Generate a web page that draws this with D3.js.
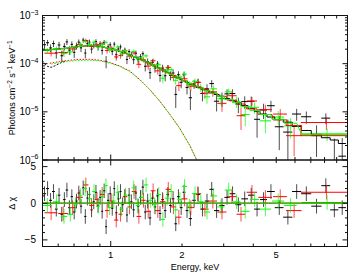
<!DOCTYPE html>
<html>
<head>
<meta charset="utf-8">
<script src="https://cdn.jsdelivr.net/npm/d3@7"></script>
<style>
  body { margin: 0; background: #fff; }
  text { font-family: "Liberation Sans", Arial, sans-serif; fill: #000; }
</style>
</head>
<body>
<div id="chart"></div>
<script>
// flux values are in units of 1e-4 photons cm^-2 s^-1 keV^-1
const UNIT = 1e-4;

// black data group
const blackE = [0.525,0.541,0.557,0.573,0.589,0.605,0.621,0.637,0.653,0.669,0.685,0.701,0.717,0.733,0.749,0.765,0.781,0.797,0.813,0.83,0.848,0.866,0.884,0.902,0.92,0.938,0.956,0.975,0.995,1.015,1.035,1.056,1.078,1.1,1.123,1.147,1.171,1.196,1.222,1.249,1.277,1.306,1.336,1.367,1.399,1.432,1.466,1.501,1.538,1.576,1.615,1.656,1.698,1.742,1.787,1.834,1.882,1.932,1.984,2.04,2.1,2.17,2.25,2.34,2.44,2.55,2.67,2.8,2.95,3.1,3.27,3.46,3.68,3.92,4.15,4.42,4.75,5.15,5.6,6.1,6.7,7.4,8.1,8.8,9.5];
const blackHW = [0.008,0.008,0.008,0.008,0.008,0.008,0.008,0.008,0.008,0.008,0.008,0.008,0.008,0.008,0.008,0.008,0.008,0.008,0.008,0.009,0.009,0.009,0.009,0.009,0.009,0.009,0.009,0.01,0.01,0.01,0.01,0.011,0.011,0.011,0.012,0.012,0.012,0.013,0.013,0.014,0.014,0.015,0.015,0.016,0.016,0.017,0.017,0.018,0.019,0.019,0.02,0.021,0.021,0.022,0.023,0.024,0.025,0.026,0.027,0.03,0.03,0.035,0.04,0.045,0.05,0.055,0.06,0.07,0.075,0.08,0.09,0.1,0.12,0.12,0.12,0.15,0.18,0.22,0.25,0.27,0.33,0.37,0.35,0.35,0.35];
const blackFlux = [2.47,2.72,2.12,2.61,1.67,2.44,1.46,2.28,2.83,1.91,2.52,1.72,2.34,2.8,2.13,3.09,1.66,2.61,2.8,2.01,2.42,2.87,2.22,2.58,1.88,2.76,1.12,2.23,2.46,1.8,2.55,1.54,2.02,2.23,1.69,1.9,1.22,1.78,1.52,1.21,1.65,1.21,1.39,1.61,0.88,1.1,0.65,1.06,0.81,0.98,0.57,0.81,0.56,0.81,0.57,0.64,0.23,0.59,0.41,0.585,0.32,0.196,0.38,0.41,0.24,0.3,0.386,0.166,0.19,0.236,0.24,0.145,0.163,0.165,0.07,0.109,0.134,0.049,0.038,0.09,0.079,0.032,0.074,0.0096,0.012];
const blackErr = [0.42,0.39,0.39,0.4,0.4,0.4,0.39,0.4,0.4,0.39,0.39,0.4,0.38,0.38,0.39,0.37,0.37,0.38,0.38,0.38,0.35,0.35,0.35,0.35,0.34,0.33,0.32,0.32,0.31,0.3,0.29,0.29,0.28,0.27,0.26,0.25,0.24,0.23,0.24,0.23,0.22,0.21,0.2,0.2,0.19,0.18,0.17,0.17,0.16,0.15,0.15,0.14,0.13,0.13,0.12,0.11,0.11,0.105,0.1,0.097,0.09,0.087,0.08,0.077,0.075,0.073,0.069,0.064,0.063,0.057,0.054,0.051,0.047,0.043,0.041,0.038,0.035,0.033,0.031,0.025,0.0226,0.0204,0.0189,0.0182,0.0165];
const blackModel = [1.92,1.94,1.96,1.98,1.99,2.0,2.04,2.08,2.11,2.14,2.17,2.2,2.23,2.26,2.29,2.31,2.33,2.35,2.35,2.35,2.35,2.34,2.32,2.3,2.25,2.2,2.15,2.1,2.06,2.01,1.96,1.91,1.85,1.8,1.74,1.67,1.6,1.53,1.47,1.41,1.35,1.29,1.23,1.17,1.11,1.05,0.99,0.94,0.89,0.83,0.78,0.74,0.69,0.65,0.61,0.57,0.53,0.5,0.47,0.44,0.41,0.38,0.35,0.32,0.3,0.28,0.255,0.23,0.21,0.19,0.17,0.155,0.135,0.117,0.103,0.09,0.078,0.069,0.061,0.05,0.041,0.034,0.029,0.026,0.022];
const blackChi = [1.3,2.0,0.4,1.6,-0.8,1.1,-1.5,0.5,1.8,-0.6,0.9,-1.2,0.3,1.4,-0.4,2.1,-1.8,0.7,1.2,-0.9,0.2,1.5,-0.3,0.8,-1.1,1.7,-3.2,0.4,1.3,-0.7,2.0,-1.3,0.6,1.6,-0.2,0.9,-1.6,1.1,0.2,-0.9,1.4,-0.4,0.8,2.2,-1.2,0.3,-2.0,0.7,-0.5,1.0,-1.4,0.5,-1.0,1.2,-0.3,0.6,-2.8,0.9,-0.6,1.5,-1.0,-2.1,0.4,1.2,-0.8,0.3,1.9,-1.0,-0.3,0.8,1.3,-0.2,0.6,1.1,-0.8,0.5,1.6,-0.6,-1.9,1.6,1.3,-0.4,2.4,-0.9,-0.6];

// red data group
const redE = [0.56,0.63,0.69,0.74,0.785,0.83,0.875,0.92,0.965,1.01,1.055,1.1,1.15,1.2,1.255,1.315,1.375,1.44,1.51,1.58,1.66,1.75,1.84,1.94,2.05,2.18,2.33,2.5,2.7,2.95,3.25,3.55,3.95,4.5,5.2,5.95,8.15];
const redHW = [0.035,0.03,0.025,0.022,0.02,0.02,0.02,0.02,0.02,0.02,0.022,0.022,0.025,0.025,0.028,0.03,0.03,0.035,0.035,0.04,0.045,0.045,0.05,0.05,0.06,0.07,0.08,0.09,0.11,0.13,0.15,0.15,0.2,0.3,0.35,0.45,1.8];
const redFlux = [1.65,1.71,2.02,2.49,3.03,2.27,2.47,2.57,1.87,2.09,1.38,1.48,1.84,1.43,1.67,0.97,1.21,0.89,1.15,0.71,0.76,0.84,0.52,0.35,0.485,0.34,0.41,0.244,0.26,0.15,0.216,0.083,0.168,0.111,0.09,0.032,0.06];
const redErr = [0.235,0.247,0.262,0.272,0.28,0.282,0.28,0.27,0.256,0.242,0.229,0.216,0.2,0.182,0.168,0.165,0.15,0.135,0.13,0.116,0.111,0.098,0.091,0.08,0.075,0.068,0.063,0.058,0.054,0.05,0.046,0.041,0.035,0.029,0.024,0.02,0.018];
const redModel = [1.96,2.06,2.18,2.27,2.33,2.35,2.33,2.25,2.13,2.02,1.91,1.8,1.66,1.52,1.4,1.27,1.15,1.04,0.93,0.83,0.74,0.65,0.57,0.5,0.44,0.38,0.33,0.29,0.245,0.21,0.175,0.145,0.115,0.088,0.068,0.052,0.032];
const redChi = [-1.3,-1.4,-0.6,0.8,2.5,-0.3,0.5,1.2,-1.0,0.3,-2.3,-1.5,0.9,-0.5,1.6,-1.8,0.4,-1.1,1.7,-1.0,0.2,1.9,-0.5,-1.9,0.6,-0.6,1.3,-0.8,0.3,-1.2,0.9,-1.5,1.5,0.8,0.9,-1.0,1.5];

// green data group
const greenE = [0.54,0.59,0.635,0.675,0.71,0.745,0.78,0.815,0.85,0.885,0.92,0.955,0.99,1.03,1.07,1.11,1.155,1.2,1.25,1.3,1.355,1.41,1.47,1.53,1.595,1.66,1.73,1.8,1.88,1.96,2.05,2.15,2.27,2.4,2.55,2.72,2.92,3.15,3.4,3.7,4.05,4.5,5.1,5.75,8.2];
const greenHW = [0.025,0.02,0.02,0.018,0.015,0.015,0.015,0.015,0.016,0.016,0.017,0.017,0.018,0.019,0.02,0.02,0.022,0.022,0.025,0.025,0.028,0.03,0.03,0.032,0.035,0.035,0.04,0.04,0.045,0.05,0.05,0.06,0.065,0.07,0.08,0.09,0.1,0.12,0.13,0.16,0.18,0.25,0.3,0.35,1.8];
const greenFlux = [1.87,2.04,1.62,1.76,2.17,2.55,2.89,2.52,2.8,2.21,2.49,2.78,1.92,2.04,2.21,1.61,1.87,1.54,1.79,1.25,1.31,1.45,1.03,0.875,0.95,0.5,0.74,0.75,0.45,0.53,0.61,0.36,0.43,0.32,0.205,0.3,0.186,0.26,0.163,0.088,0.124,0.065,0.078,0.051,0.035];
const greenErr = [0.233,0.239,0.248,0.258,0.266,0.274,0.28,0.282,0.282,0.278,0.27,0.259,0.248,0.236,0.224,0.214,0.198,0.182,0.183,0.169,0.155,0.142,0.137,0.126,0.113,0.111,0.1,0.096,0.085,0.082,0.075,0.07,0.066,0.062,0.058,0.054,0.048,0.045,0.042,0.038,0.033,0.029,0.025,0.023,0.0102];
const greenModel = [1.94,1.99,2.07,2.15,2.22,2.28,2.33,2.35,2.35,2.32,2.25,2.16,2.07,1.97,1.87,1.78,1.65,1.52,1.41,1.3,1.19,1.09,0.98,0.9,0.81,0.74,0.67,0.6,0.53,0.485,0.44,0.39,0.345,0.31,0.275,0.245,0.21,0.18,0.155,0.13,0.107,0.088,0.07,0.058,0.034];
const greenChi = [-0.3,0.2,-1.8,-1.5,-0.2,1.0,2.0,0.6,1.6,-0.4,0.9,2.4,-0.6,0.3,1.5,-0.8,1.1,0.1,2.1,-0.3,0.8,2.5,0.4,-0.2,1.2,-2.2,0.7,1.6,-0.9,0.5,2.3,-0.4,1.3,0.2,-1.2,1.0,-0.5,1.8,0.2,-1.1,0.5,-0.8,0.3,-0.3,0.1];

// model component (dotted curves)
const compE = [0.553,0.609,0.671,0.74,0.815,0.899,0.99,1.091,1.203,1.326,1.461,1.61,1.774,1.955,2.155,2.31,2.45];
const compRed = [1.02,1.11,1.18,1.23,1.23,1.18,1.06,0.895,0.705,0.47,0.29,0.167,0.0895,0.0457,0.0202,0.0099,0.005];
const compGreen = [0.97,1.05,1.12,1.17,1.18,1.14,1.03,0.875,0.69,0.46,0.29,0.167,0.0895,0.0457,0.0202,0.0099,0.005];
const compBlackE = [0.515,0.525,0.54,0.56,0.58,0.6,0.62,0.64];
const compBlack = [1.15,1.0,0.88,0.84,0.9,0.98,1.06,1.12];

// tick marks and labels
const xMinorTicks = [0.6,0.7,0.8,0.9,2,3,4,5,6,7,8,9];
const xMajorTicks = [1];
const xLabels = [1,2,5];
const yDecades = [1e-6,1e-5,1e-4,1e-3];
const yDecadeLabels = ["\u22126","\u22125","\u22124","\u22123"];
const resMajor = [-5,0,5];
const resMinor = [-4,-3,-2,-1,1,2,3,4];

const W = 363, H = 280;
const pLeft = 42.5, pRight = 347.5, pTop = 15.5, pMid = 160, pBottom = 246.5;

const svg = d3.select("#chart").append("svg")
    .attr("width", W).attr("height", H)
    .style("display", "block");

const x = d3.scaleLog().domain([0.515, 10]).range([pLeft, pRight]);
const y = d3.scaleLog().domain([1e-6, 1e-3]).range([pMid, pTop]);
const yr = d3.scaleLinear().domain([-5.9, 5.9]).range([pBottom, pMid]);

const defs = svg.append("defs");
defs.append("clipPath").attr("id", "clipTop")
    .append("rect").attr("x", pLeft).attr("y", pTop).attr("width", pRight - pLeft).attr("height", pMid - pTop);
defs.append("clipPath").attr("id", "clipRes")
    .append("rect").attr("x", pLeft).attr("y", pMid).attr("width", pRight - pLeft).attr("height", pBottom - pMid);

const gTop = svg.append("g").attr("clip-path", "url(#clipTop)");
const gRes = svg.append("g").attr("clip-path", "url(#clipRes)");

function yFlux(v) {
    // values at or below zero fall off the bottom of the log axis
    return v > 0 ? y(v * UNIT) : pMid + 10;
}

function drawGroup(E, HW, F, Fe, chi, color) {
    const idx = d3.range(E.length);

    // data crosses, top panel
    gTop.append("g").selectAll("line").data(idx).enter().append("line")
        .attr("x1", i => x(E[i] - HW[i])).attr("x2", i => x(E[i] + HW[i]))
        .attr("y1", i => yFlux(F[i])).attr("y2", i => yFlux(F[i]))
        .attr("stroke", color).attr("stroke-width", 1);
    gTop.append("g").selectAll("line").data(idx).enter().append("line")
        .attr("x1", i => x(E[i])).attr("x2", i => x(E[i]))
        .attr("y1", i => yFlux(F[i] - Fe[i])).attr("y2", i => yFlux(F[i] + Fe[i]))
        .attr("stroke", color).attr("stroke-width", 1).attr("stroke-opacity", 0.7);

    // residual crosses
    gRes.append("g").selectAll("line").data(idx).enter().append("line")
        .attr("x1", i => x(E[i] - HW[i])).attr("x2", i => x(E[i] + HW[i]))
        .attr("y1", i => yr(chi[i])).attr("y2", i => yr(chi[i]))
        .attr("stroke", color).attr("stroke-width", 1);
    gRes.append("g").selectAll("line").data(idx).enter().append("line")
        .attr("x1", i => x(E[i])).attr("x2", i => x(E[i]))
        .attr("y1", i => yr(chi[i] - 1)).attr("y2", i => yr(chi[i] + 1))
        .attr("stroke", color).attr("stroke-width", 1).attr("stroke-opacity", 0.7);
}

function drawModel(E, HW, M, color) {
    const pts = [];
    E.forEach((e, i) => {
        pts.push([x(e - HW[i]), yFlux(M[i])]);
        pts.push([x(e + HW[i]), yFlux(M[i])]);
    });
    gTop.append("path").attr("d", d3.line()(pts))
        .attr("fill", "none").attr("stroke", color).attr("stroke-width", 1);
    gRes.append("line")
        .attr("x1", x(E[0] - HW[0])).attr("x2", x(E[E.length - 1] + HW[E.length - 1]))
        .attr("y1", yr(0)).attr("y2", yr(0))
        .attr("stroke", color).attr("stroke-width", 1);
}

drawGroup(blackE, blackHW, blackFlux, blackErr, blackChi, "#000000");
drawGroup(redE, redHW, redFlux, redErr, redChi, "#ff0000");
drawGroup(greenE, greenHW, greenFlux, greenErr, greenChi, "#00ff00");

drawModel(blackE, blackHW, blackModel, "#000000");
drawModel(redE, redHW, redModel, "#ff0000");
drawModel(greenE, greenHW, greenModel, "#00ff00");

// dotted model components
const compLine = d3.line().x(d => x(d[0])).y(d => y(d[1] * UNIT));
gTop.append("path").attr("d", compLine(compBlackE.map((e, i) => [e, compBlack[i]])))
    .attr("fill", "none").attr("stroke", "#000").attr("stroke-width", 1)
    .attr("stroke-dasharray", "2,1.5");
gTop.append("path").attr("d", compLine(compE.map((e, i) => [e, compRed[i]])))
    .attr("fill", "none").attr("stroke", "#ff0000").attr("stroke-width", 1)
    .attr("stroke-dasharray", "1.5,1.5");
gTop.append("path").attr("d", compLine(compE.map((e, i) => [e, compGreen[i]])))
    .attr("fill", "none").attr("stroke", "#00ff00").attr("stroke-width", 1)
    .attr("stroke-dasharray", "1.5,1.5").attr("stroke-dashoffset", 1.5);

// frames
const frame = svg.append("g").attr("fill", "none").attr("stroke", "#111").attr("stroke-width", 1);
frame.append("rect").attr("x", pLeft).attr("y", pTop).attr("width", pRight - pLeft).attr("height", pMid - pTop);
frame.append("rect").attr("x", pLeft).attr("y", pMid).attr("width", pRight - pLeft).attr("height", pBottom - pMid);

// x ticks on all horizontal edges, pointing into each panel
function xTicks(vals, len) {
    [[pTop, 1], [pMid, -1], [pMid, 1], [pBottom, -1]].forEach(([yy, dir]) => {
        frame.selectAll(null).data(vals).enter().append("line")
            .attr("x1", d => x(d)).attr("x2", d => x(d))
            .attr("y1", yy).attr("y2", yy + dir * len);
    });
}
xTicks(xMinorTicks, 3);
xTicks(xMajorTicks, 5.5);

// y ticks, top panel (log) and residual panel
const yMinor = [];
yDecades.slice(0, 3).forEach(d => { for (let k = 2; k <= 9; k++) yMinor.push(d * k); });
[[pLeft, 1], [pRight, -1]].forEach(([xx, dir]) => {
    frame.selectAll(null).data(yMinor).enter().append("line")
        .attr("x1", xx).attr("x2", xx + dir * 2.5).attr("y1", d => y(d)).attr("y2", d => y(d));
    frame.selectAll(null).data(yDecades).enter().append("line")
        .attr("x1", xx).attr("x2", xx + dir * 5).attr("y1", d => y(d)).attr("y2", d => y(d));
    frame.selectAll(null).data(resMinor).enter().append("line")
        .attr("x1", xx).attr("x2", xx + dir * 2.5).attr("y1", d => yr(d)).attr("y2", d => yr(d));
    frame.selectAll(null).data(resMajor).enter().append("line")
        .attr("x1", xx).attr("x2", xx + dir * 5).attr("y1", d => yr(d)).attr("y2", d => yr(d));
});

// labels
const lab = svg.append("g").style("font-size", "9px");
yDecades.forEach((d, i) => {
    const t = lab.append("text").attr("x", 38.5).attr("y", y(d) + 3.5).attr("text-anchor", "end")
        .style("font-size", "10px");
    t.append("tspan").text("10");
    t.append("tspan").attr("dy", -4.5).style("font-size", "7px").text(yDecadeLabels[i]);
});
resMajor.forEach(d => {
    lab.append("text").attr("x", 36).attr("y", yr(d) + 3.5).attr("text-anchor", "end")
        .style("font-size", "10px")
        .text(d < 0 ? "\u2212" + Math.abs(d) : d);
});
xLabels.forEach(d => {
    lab.append("text").attr("x", x(d)).attr("y", 258).attr("text-anchor", "middle")
        .style("font-size", "9.5px").text(d);
});
lab.append("text").attr("x", (pLeft + pRight) / 2).attr("y", 270).attr("text-anchor", "middle")
    .text("Energy, keV");

const yt = lab.append("text").attr("transform", `translate(14.5,${(pTop + pMid) / 2}) rotate(-90)`)
    .attr("text-anchor", "middle");
yt.append("tspan").text("Photons cm");
yt.append("tspan").attr("dy", -3).style("font-size", "6.5px").text("\u22122");
yt.append("tspan").attr("dy", 3).text(" s");
yt.append("tspan").attr("dy", -3).style("font-size", "6.5px").text("\u22121");
yt.append("tspan").attr("dy", 3).text(" keV");
yt.append("tspan").attr("dy", -3).style("font-size", "6.5px").text("\u22121");

lab.append("text").attr("transform", `translate(14.5,${yr(0)}) rotate(-90)`)
    .attr("text-anchor", "middle").text("\u0394 \u03c7");
</script>
</body>
</html>
